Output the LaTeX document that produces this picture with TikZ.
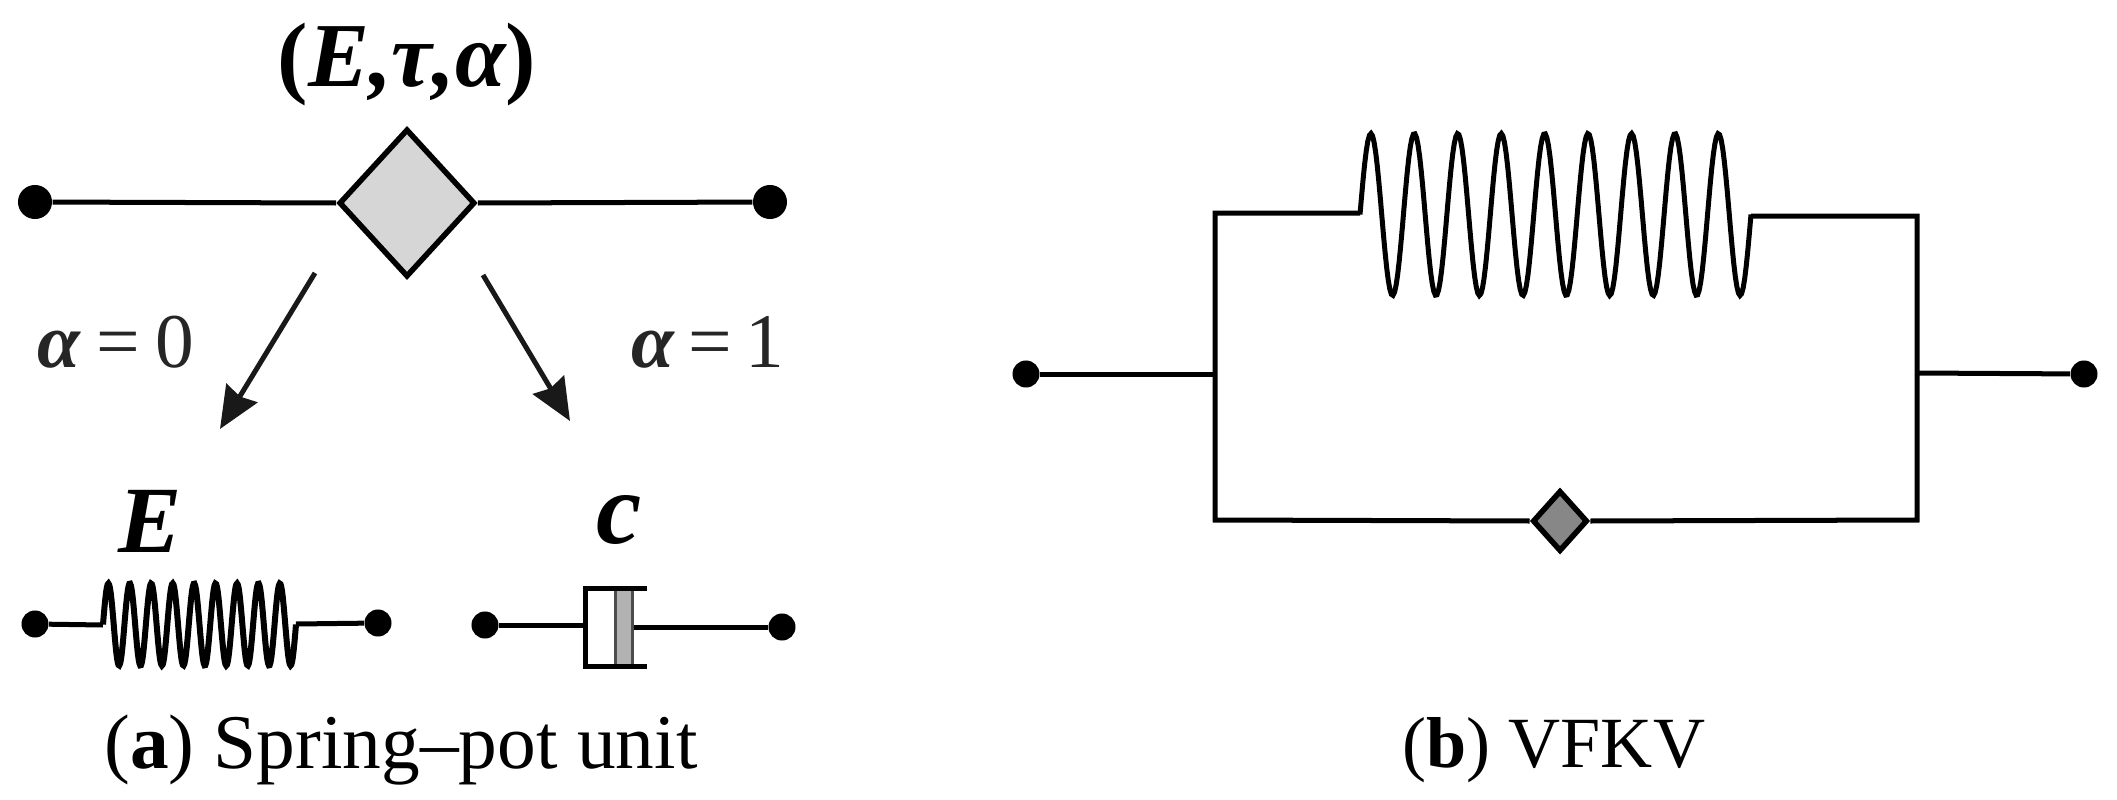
\documentclass[tikz,border=0pt]{standalone}
\usepackage{fontspec}
\setmainfont{Liberation Serif}
\usetikzlibrary{arrows.meta,shapes.geometric}
\tikzset{
    wire/.style={line width=0.05cm, black},
    coil/.style={line width=0.06cm, black, samples=250, variable=\t},
    bigdot/.style={circle, fill=black, inner sep=0, minimum size=0.34cm},
    smalldot/.style={circle, fill=black, inner sep=0, minimum size=0.27cm},
    springpot/.style={diamond, draw=black, line width=0.055cm, inner sep=0},
    piston/.style={rectangle, draw=black!70, line width=0.03cm, fill=black!30, inner sep=0, minimum width=0.17cm, minimum height=0.78cm},
    pointer/.style={line width=0.05cm, black!90, -{Stealth[length=0.42cm,width=0.36cm,inset=0.04cm]}},
    symbol/.style={font=\fontsize{27}{27}\selectfont\bfseries\itshape, inner sep=0},
    cond/.style={font=\fontsize{22}{22}\selectfont, text=black!85, inner sep=0},
    caption/.style={font=\fontsize{22}{24}\selectfont, anchor=base, inner sep=0}
}
\begin{document}
\begin{tikzpicture}[x=0.01cm, y=-0.01cm]
    \useasboundingbox (0,0) rectangle (2117,800);

    % (a) spring-pot and its two limits
    \node[bigdot] (potL) at (35,202) {};
    \node[bigdot] (potR) at (770,202) {};
    \node[springpot, fill=black!16, minimum width=1.36cm, minimum height=1.48cm] (pot) at (407,203) {};
    \draw[wire] (potL) -- (pot.west);
    \draw[wire] (pot.east) -- (potR);
    \node[symbol] (potlabel) at (407,65) {\fontsize{26}{26}\selectfont{\upshape(}E,τ,α{\upshape)}};

    \coordinate (armLs) at (315,273);
    \coordinate (armLe) at (220,429);
    \coordinate (armRs) at (483,275);
    \coordinate (armRe) at (570,421);
    \draw[pointer] (armLs) -- (armLe);
    \draw[pointer] (armRs) -- (armRe);
    \node[cond] (condL) at (116,342) {{\bfseries\itshape α}\hspace{4.5pt}=\hspace{4.5pt}0};
    \node[cond] (condR) at (708,342) {{\bfseries\itshape α}\hspace{4pt}=\hspace{4pt}1};

    % spring
    \node[symbol] (Elabel) at (150,521) {\fontsize{27}{27}\selectfont E};
    \node[smalldot] (springL) at (35,624) {};
    \node[smalldot] (springR) at (378,623) {};
    \coordinate (coilL) at (103,625);
    \coordinate (coilR) at (296,624);
    \draw[wire] (springL) -- (coilL);
    \draw[wire] (coilR) -- (springR);
    \draw[coil, domain=0:3240] plot ({103+\t/3240*193}, {624.5-41*sin(\t)});

    % dashpot
    \node[symbol] (clabel) at (619,520) {\fontsize{29}{29}\selectfont c};
    \node[smalldot] (dashL) at (485,625) {};
    \node[smalldot] (dashR) at (782,627) {};
    \node[piston] (pist) at (624,627) {};
    \coordinate (cupL) at (585,625);
    \draw[wire] (647,588) -- (585,588) -- (585,666) -- (647,666);
    \draw[wire] (dashL) -- (cupL);
    \draw[wire] (pist.east) -- (dashR);

    \node[caption] (capA) at (401,768) {(\textbf{a}) Spring–pot unit};

    % (b) VFKV
    \node[smalldot] (vfkvL) at (1026,374) {};
    \node[smalldot] (vfkvR) at (2084,374) {};
    \coordinate (jointL) at (1215,374);
    \coordinate (jointR) at (1917,373);
    \coordinate (topL) at (1215,213);
    \coordinate (topR) at (1917,216);
    \coordinate (lowL) at (1215,520);
    \coordinate (lowR) at (1917,520);
    \coordinate (coilA) at (1360,213);
    \coordinate (coilB) at (1751,216);
    \node[springpot, fill=black!47, minimum width=0.55cm, minimum height=0.61cm] (vpot) at (1560,521) {};
    \draw[wire] (vfkvL) -- (jointL);
    \draw[wire] (jointR) -- (vfkvR);
    \draw[wire] (coilA) -- (topL) -- (lowL) -- (vpot.west);
    \draw[wire] (coilB) -- (topR) -- (lowR) -- (vpot.east);
    \draw[coil, line width=0.05cm, domain=0:3240] plot ({1360+\t/3240*391}, {214.5-81*sin(\t)});

    \node[caption, font=\fontsize{20.5}{24}\selectfont] (capB) at (1554,767) {(\textbf{b}) VFKV};
\end{tikzpicture}
\end{document}
